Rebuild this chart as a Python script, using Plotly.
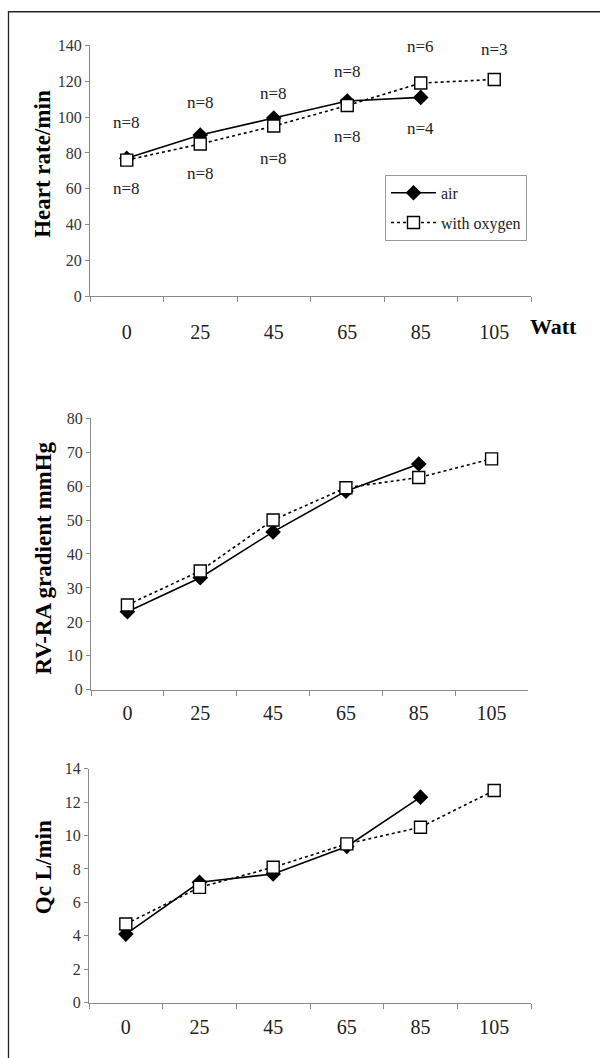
import plotly.graph_objects as go

# ---------------- data ----------------
watts = ["0", "25", "45", "65", "85", "105"]

hr_air = [77, 90, 99.5, 109, 111, None]
hr_oxy = [76, 85, 95, 106.5, 119, 121]

rv_air = [23, 33, 46.5, 58.5, 66.5, None]
rv_oxy = [25, 35, 50, 59.5, 62.5, 68]

qc_air = [4.1, 7.2, 7.7, 9.35, 12.3, None]
qc_oxy = [4.7, 6.9, 8.1, 9.5, 10.5, 12.7]

n_above_txt = ["n=8", "n=8", "n=8", "n=8", "n=6", "n=3"]
n_above_y = [97, 108, 113, 125.5, 139.5, 138]
n_below_txt = ["n=8", "n=8", "n=8", "n=8", "n=4"]
n_below_y = [60, 68.5, 77, 89, 93.5]

y_titles = ["Heart rate/min", "RV-RA gradient mmHg", "Qc L/min"]

# ---------------- page geometry helpers ----------------
W, H = 600, 1058


def px(x):
    return x / W


def py(y):
    # vertical placement as observed in the final picture
    return 1 - (y - 8) / 1042


SERIF = "Liberation Serif"
AXC = "#8a8a8a"

fig = go.Figure()

panels = [
    dict(xa="x", ya="y", air=hr_air, oxy=hr_oxy, xd=(90, 531), yd=(296.5, 45.5),
         rng=[0, 140], dt=20, standoff=18, title_y=164),
    dict(xa="x2", ya="y2", air=rv_air, oxy=rv_oxy, xd=(91, 528), yd=(690.5, 418.5),
         rng=[0, 80], dt=10, standoff=5, title_y=559),
    dict(xa="x3", ya="y3", air=qc_air, oxy=qc_oxy, xd=(89, 531), yd=(1003.5, 769.5),
         rng=[0, 14], dt=2, standoff=6, title_y=868),
]

for i, p in enumerate(panels):
    fig.add_trace(go.Scatter(
        x=watts, y=p["air"], xaxis=p["xa"], yaxis=p["ya"], name="air",
        mode="lines+markers", showlegend=(i == 0), legendgroup="a",
        line=dict(color="black", width=1.6),
        marker=dict(symbol="diamond", size=12, color="black"),
    ))
    fig.add_trace(go.Scatter(
        x=watts, y=p["oxy"], xaxis=p["xa"], yaxis=p["ya"], name="with oxygen",
        mode="lines+markers", showlegend=(i == 0), legendgroup="b",
        line=dict(color="black", width=1.6, dash="dot"),
        marker=dict(symbol="square", size=12, color="white",
                    line=dict(color="black", width=1.4)),
    ))

layout = dict(
    width=W, height=H, margin=dict(l=0, r=0, t=0, b=0),
    paper_bgcolor="white", plot_bgcolor="white",
    font=dict(family=SERIF, color="#222"),
    legend=dict(x=px(385), y=py(175), xanchor="left", yanchor="top",
                bordercolor="#9a9a9a", borderwidth=1, bgcolor="white",
                font=dict(family=SERIF, size=16, color="#222"),
                traceorder="grouped", tracegroupgap=6, itemwidth=45),
)

annotations = []
for i, p in enumerate(panels):
    sfx = "" if i == 0 else str(i + 1)
    layout["xaxis" + sfx] = dict(
        domain=[px(p["xd"][0]), px(p["xd"][1])], anchor="y" + sfx,
        type="category", categoryorder="array", categoryarray=watts,
        range=[-0.5, 5.5], tickson="boundaries", ticks="outside", ticklen=5,
        tickcolor=AXC, showline=True, linecolor=AXC, linewidth=1.2,
        showgrid=False, zeroline=False, ticklabelstandoff=p["standoff"],
        tickfont=dict(family=SERIF, size=20, color="#222"), fixedrange=True,
    )
    layout["yaxis" + sfx] = dict(
        domain=[py(p["yd"][0]), py(p["yd"][1])], anchor="x" + sfx,
        range=p["rng"], dtick=p["dt"], ticks="outside", ticklen=4,
        tickcolor=AXC, showline=True, linecolor=AXC, linewidth=1.2,
        showgrid=False, zeroline=False,
        tickfont=dict(family=SERIF, size=16, color="#333"), fixedrange=True,
    )
    annotations.append(dict(
        text="<b>%s</b>" % y_titles[i], textangle=-90, showarrow=False,
        xref="paper", yref="paper", x=px(43), y=py(p["title_y"]),
        xanchor="center", yanchor="middle",
        font=dict(family=SERIF, size=23, color="black"),
    ))

for k, (t, yv) in enumerate(zip(n_above_txt, n_above_y)):
    annotations.append(dict(text=t, x=k, y=yv, xref="x", yref="y", showarrow=False,
                            xanchor="center", yanchor="middle",
                            font=dict(family=SERIF, size=17, color="#222")))
for k, (t, yv) in enumerate(zip(n_below_txt, n_below_y)):
    annotations.append(dict(text=t, x=k, y=yv, xref="x", yref="y", showarrow=False,
                            xanchor="center", yanchor="middle",
                            font=dict(family=SERIF, size=17, color="#222")))

annotations.append(dict(text="<b>Watt</b>", xref="paper", yref="paper",
                        x=px(553), y=py(327), showarrow=False,
                        xanchor="center", yanchor="middle",
                        font=dict(family=SERIF, size=22, color="black")))
layout["annotations"] = annotations

layout["shapes"] = [
    dict(type="rect", xref="paper", yref="paper", x0=px(8), x1=1.0,
         y0=py(12.6), y1=py(11.0), fillcolor="#222", line=dict(width=0)),
    dict(type="line", xref="paper", yref="paper", x0=px(8.5), x1=px(8.5),
         y0=-0.02, y1=py(11.0), line=dict(color="#222", width=1.3)),
]

fig.update_layout(**layout)
fig.write_html(
    "out.html",
    config={"displayModeBar": False},
    post_script="document.body.style.margin='0';document.body.style.padding='0';"
                "document.documentElement.style.overflow='hidden';",
)
